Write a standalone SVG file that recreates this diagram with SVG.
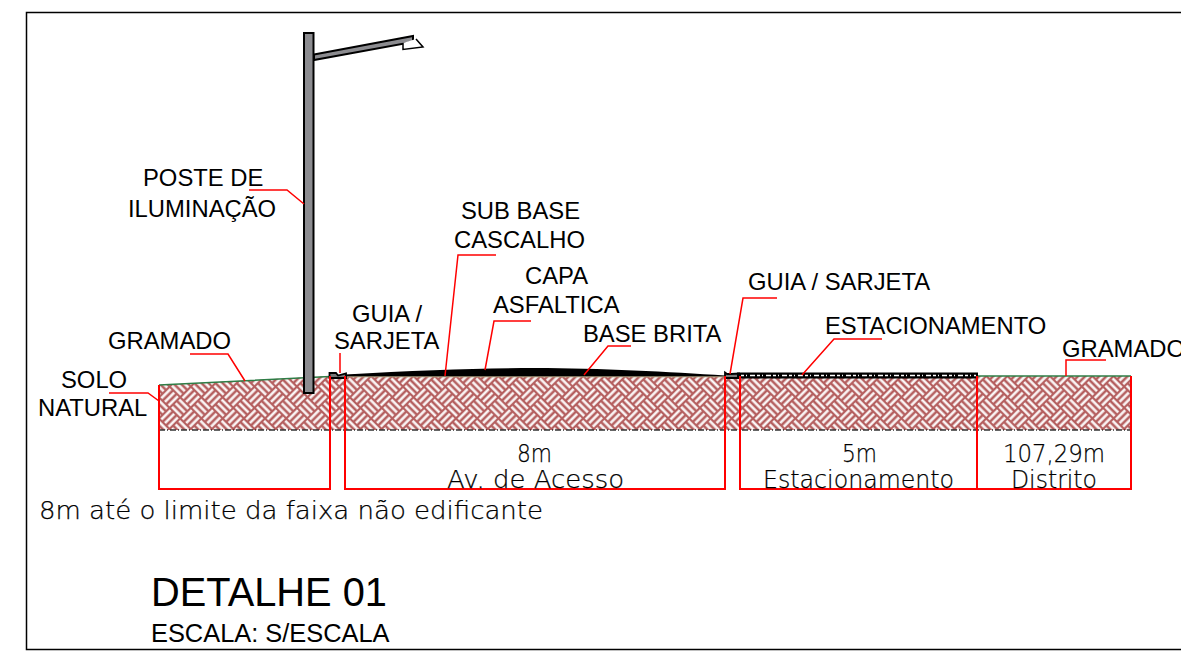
<svg xmlns="http://www.w3.org/2000/svg" width="1181" height="651" viewBox="0 0 1181 651">
<style>
.a{font-family:"Liberation Sans",Arial,sans-serif;font-size:23.800px;fill:#000}
.c{font-family:"DejaVu Sans",sans-serif;font-size:24px;font-weight:200;fill:#000;stroke:#000;stroke-width:0.250}
.r{fill:none;stroke:#f00;stroke-width:1.500}
.d{fill:none;stroke:#f00;stroke-width:2}
</style>
<defs>
<pattern id="weave" width="30" height="30" patternUnits="userSpaceOnUse" patternTransform="translate(159 376) rotate(45)">
<rect width="30" height="30" fill="#b56060"/>
<g fill="#fff">
<rect x="1" y="1.200" width="13" height="2.400"/><rect x="1" y="6.300" width="13" height="2.400"/><rect x="1" y="11.400" width="13" height="2.400"/>
<rect x="16" y="16.200" width="13" height="2.400"/><rect x="16" y="21.300" width="13" height="2.400"/><rect x="16" y="26.400" width="13" height="2.400"/>
<rect x="16.200" y="1" width="2.400" height="13"/><rect x="21.300" y="1" width="2.400" height="13"/><rect x="26.400" y="1" width="2.400" height="13"/>
<rect x="1.200" y="16" width="2.400" height="13"/><rect x="6.300" y="16" width="2.400" height="13"/><rect x="11.400" y="16" width="2.400" height="13"/>
</g>
</pattern>
</defs>
<rect width="1181" height="651" fill="#fff"/>
<rect id="frame" x="26.500" y="12.500" width="1160" height="637" fill="none" stroke="#000" stroke-width="1.500"/>

<g id="ground">
<path d="M159 385L330 376H1131V430H159Z" fill="url(#weave)"/>
<path d="M159 385L330 376.500M978 376H1131" fill="none" stroke="#2e7d46" stroke-width="1.500"/>
<path d="M159 430H1131" stroke="#333" stroke-width="1.500" stroke-dasharray="6 2 1 2" fill="none"/>
<path d="M1131 376V386" stroke="#000" stroke-width="2"/>
</g>

<g id="road">
<path d="M345 374.500C420 370 480 368 535 368C600 368 670 372 725 375.500V377H345Z" fill="#000"/>
<path d="M345 376.800H725" stroke="#b8a888" stroke-width="1"/>
</g>

<g id="guia-esquerda">
<path d="M329.500 373H336L338 375.500L346 373.500V378H329.500Z" fill="#777" stroke="#000" stroke-width="1.800"/>
</g>
<g id="guia-direita">
<path d="M725 372.500L727 374H731L739 373.500V378H725Z" fill="#777" stroke="#000" stroke-width="1.800"/>
</g>

<g id="estacionamento">
<rect x="737" y="372.500" width="241" height="6" fill="#000"/>
<path d="M741 375.500H976" stroke="#fff" stroke-width="1.500" stroke-dasharray="3 2 1 3 5 2"/>
</g>

<g id="poste">
<path d="M314 54.500L413 36V42L314 60Z" fill="#8c8c90" stroke="#000" stroke-width="2"/>
<path d="M403 43V49.500L423 47L416 39" fill="#fff" stroke="#000" stroke-width="1.500"/>
<rect x="304" y="33" width="9.500" height="360" fill="#8c8c90" stroke="#000" stroke-width="2"/>
</g>

<g id="connectors">
<path class="r" d="M249 190H287L304 204"/>
<path class="r" d="M190 354H228L245 381"/>
<path class="r" d="M109 393H148L159 401"/>
<path class="r" d="M340 353V373"/>
<path class="r" d="M496 255H458L445 376"/>
<path class="r" d="M531 321H494L485 370"/>
<path class="r" d="M631 346H608L584 375"/>
<path class="r" d="M777 298H743L730 374"/>
<path class="r" d="M882 339H834L802 375"/>
<path class="r" d="M1106 360H1066V376"/>
</g>

<g id="dimensions">
<path class="d" d="M159 385V489H330V376"/>
<path class="d" d="M345 376V489H725V376"/>
<path class="d" d="M740 376V489H1131V376"/>
<path class="d" d="M977 376V489"/>
</g>

<g id="labels">
<text class="a" x="143" y="186">POSTE DE</text>
<text class="a" x="128" y="217">ILUMINAÇÃO</text>
<text class="a" x="108" y="349">GRAMADO</text>
<text class="a" x="61" y="388">SOLO</text>
<text class="a" x="38" y="416">NATURAL</text>
<text class="a" x="352" y="322">GUIA /</text>
<text class="a" x="334" y="349">SARJETA</text>
<text class="a" x="461" y="219">SUB BASE</text>
<text class="a" x="454" y="248">CASCALHO</text>
<text class="a" x="525" y="284">CAPA</text>
<text class="a" x="493" y="313">ASFALTICA</text>
<text class="a" x="583" y="342">BASE BRITA</text>
<text class="a" x="748" y="290">GUIA / SARJETA</text>
<text class="a" x="825" y="334">ESTACIONAMENTO</text>
<text class="a" x="1062" y="357">GRAMADO</text>
<text class="c" x="517" y="462" textLength="35" lengthAdjust="spacingAndGlyphs">8m</text>
<text class="c" x="447" y="488" textLength="177" lengthAdjust="spacingAndGlyphs">Av. de Acesso</text>
<text class="c" x="842" y="462" textLength="35" lengthAdjust="spacingAndGlyphs">5m</text>
<text class="c" x="763" y="488" textLength="191" lengthAdjust="spacingAndGlyphs">Estacionamento</text>
<text class="c" x="1003" y="462" textLength="102" lengthAdjust="spacingAndGlyphs">107,29m</text>
<text class="c" x="1011" y="488" textLength="86" lengthAdjust="spacingAndGlyphs">Distrito</text>
<text class="c" x="39" y="519" textLength="504" lengthAdjust="spacingAndGlyphs">8m até o limite da faixa não edificante</text>
<text class="a" style="font-size:39.800px" x="151" y="606">DETALHE 01</text>
<text class="a" style="font-size:25.400px" x="151" y="642">ESCALA: S/ESCALA</text>
</g>
</svg>
